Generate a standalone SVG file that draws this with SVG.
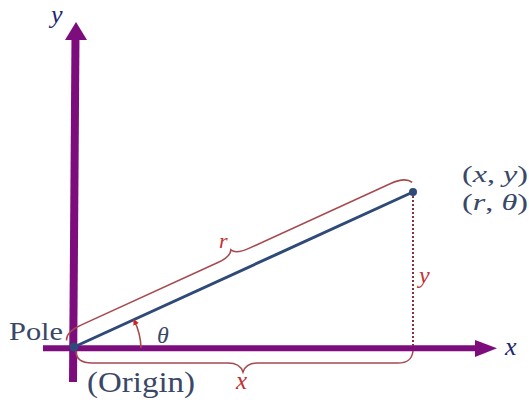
<svg xmlns="http://www.w3.org/2000/svg" width="529" height="402" viewBox="0 0 529 402">
<defs>
<style>
.axis{stroke:#7d0c7c;fill:none}
.ahead{fill:#7d0c7c}
.it{font-style:italic}
.dark{fill:#3a4868}
.navy{fill:#1e2672}
.red{fill:#c03232}
.brace{fill:none;stroke:#a64a50;stroke-width:1.6}
</style>
<marker id="arcHead" viewBox="0 0 10 10" refX="8" refY="5" markerWidth="6" markerHeight="6" markerUnits="userSpaceOnUse" orient="auto">
<path d="M0,0 L10,5 L0,10 z" fill="#d42020"/>
</marker>
</defs>
<rect width="529" height="402" fill="#ffffff"/>
<g font-family="Liberation Serif, DejaVu Serif, serif">
<g id="axes">
<path class="axis" d="M73,382 L75.5,36" stroke-width="8"/>
<polygon class="ahead" points="76,22 65,40 87,40"/>
<path class="axis" d="M43,348.3 L478,348.3" stroke-width="6"/>
<polygon class="ahead" points="497,348.3 475,340 475,357"/>
<text class="it navy" x="51" y="23" font-size="26">y</text>
<text class="it navy" x="505" y="355" font-size="26">x</text>
</g>
<g id="connectors">
<line x1="413" y1="196" x2="413" y2="347" stroke="#8b2f3a" stroke-width="2" stroke-dasharray="2,2"/>
<line x1="74" y1="347" x2="413" y2="192" stroke="#2f4a78" stroke-width="3"/>
<g transform="translate(74,347) rotate(-24.57)">
<path class="brace" d="M-4,-9 C-2,-15 6,-17 16,-17 L166,-17 C176,-17 181,-19 183,-23 C185,-19 190,-17 200,-17 L356,-17 C366,-17 373,-15 376,-9"/>
</g>
<path class="brace" d="M76,351 C76,359 82,363 92,363 L228,363 C236,363 241,366 243,372 C245,366 250,363 258,363 L398,363 C408,363 412,359 413,351"/>
<path d="M141,348 A67,67 0 0 0 134,320" fill="none" stroke="#a64a50" stroke-width="1.6" marker-end="url(#arcHead)"/>
</g>
<g id="origin">
<circle cx="74" cy="347" r="4.5" fill="#2f4a78"/>
<text class="dark" x="9" y="340" font-size="25" textLength="54" lengthAdjust="spacingAndGlyphs">Pole</text>
<text class="dark" x="87" y="392" font-size="29" textLength="108" lengthAdjust="spacingAndGlyphs">(Origin)</text>
</g>
<g id="point">
<circle cx="413" cy="192" r="4" fill="#2f4a78"/>
<text class="dark" x="462" y="182" font-size="24" textLength="66" lengthAdjust="spacingAndGlyphs">(<tspan class="it">x</tspan>, <tspan class="it">y</tspan>)</text>
<text class="dark" x="462" y="210" font-size="24" textLength="66" lengthAdjust="spacingAndGlyphs">(<tspan class="it">r</tspan>, <tspan class="it">θ</tspan>)</text>
</g>
<g id="labels">
<text class="it red" x="219" y="248" font-size="22">r</text>
<text class="it red" x="419" y="283" font-size="24">y</text>
<text class="it red" x="236" y="389" font-size="25">x</text>
<text class="it" x="157" y="343" font-size="24" fill="#3a4868">θ</text>
</g>
</g>
</svg>
